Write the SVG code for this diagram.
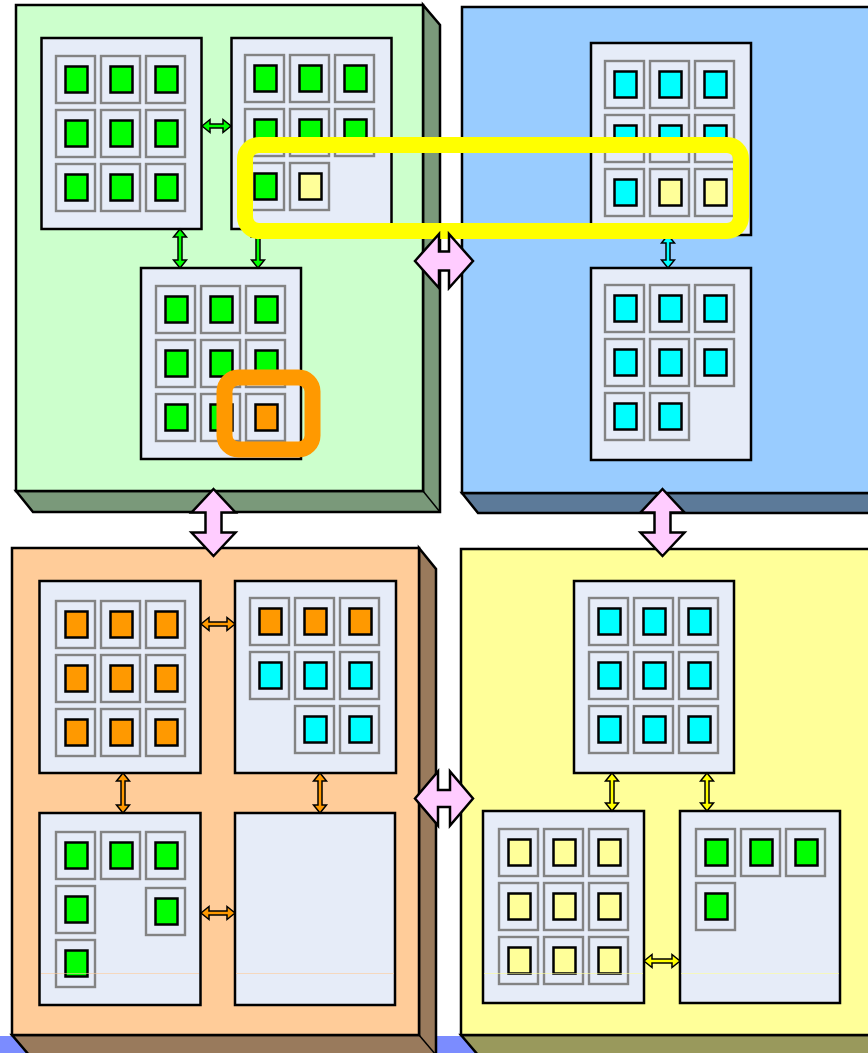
<svg xmlns="http://www.w3.org/2000/svg" xmlns:xlink="http://www.w3.org/1999/xlink" width="868" height="1053" viewBox="0 0 868 1053">
<style>
.front{stroke:#000;stroke-width:2.5}
.ext{stroke:#000;stroke-width:2.5;stroke-linejoin:miter}
.panel{fill:#e6ecf8;stroke:#000;stroke-width:2.5}
.fr{fill:#e6ecf8;stroke:#838383;stroke-width:2.4}
.sq{stroke:#000;stroke-width:2.5}
.arr{stroke:#000;stroke-width:1.5;stroke-linejoin:miter}
.big{fill:#ffccff;stroke:#000;stroke-width:2.5;stroke-linejoin:miter}
.hl{fill:none;stroke-width:16}
.faint{stroke-width:1;opacity:0.6}
</style>
<defs>
<g id="cG"><rect class="fr" x="1" y="1" width="39" height="47"/><rect class="sq" x="10.5" y="11.5" width="22" height="26" fill="#00ff00"/></g>
<g id="cC"><rect class="fr" x="1" y="1" width="39" height="47"/><rect class="sq" x="10.5" y="11.5" width="22" height="26" fill="#00ffff"/></g>
<g id="cO"><rect class="fr" x="1" y="1" width="39" height="47"/><rect class="sq" x="10.5" y="11.5" width="22" height="26" fill="#ff9900"/></g>
<g id="cY"><rect class="fr" x="1" y="1" width="39" height="47"/><rect class="sq" x="10.5" y="11.5" width="22" height="26" fill="#ffff99"/></g>
</defs>
<rect x="0" y="0" width="868" height="1053" fill="#fff"/>
<rect x="0" y="1036" width="868" height="17" fill="#7b8cff"/>

<g id="quad-tl">
<polygon class="ext" fill="#7a997a" points="16,491 423,491 423,5 440,25 440,512 33,512"/>
<line x1="423" y1="491" x2="440" y2="512" stroke="#000" stroke-width="1.5"/>
<rect class="front" fill="#ccffcc" x="16" y="5" width="407" height="486"/>
</g>
<g id="quad-tr">
<polygon class="ext" fill="#5c7a99" points="462,493 880,493 880,513 478,513"/>
<rect class="front" fill="#99ccff" x="462" y="7" width="420" height="486"/>
</g>
<g id="quad-bl">
<polygon class="ext" fill="#997a5c" points="12,1035 419,1035 419,548 436,569 436,1075 46,1075"/>
<line x1="419" y1="1035" x2="436" y2="1055" stroke="#000" stroke-width="1.5"/>
<rect class="front" fill="#ffcc99" x="12" y="548" width="407" height="487"/>
</g>
<g id="quad-br">
<polygon class="ext" fill="#99995c" points="461,1035 880,1035 880,1075 495,1075"/>
<rect class="front" fill="#ffff99" x="461" y="549" width="420" height="486"/>
</g>

<g id="panel-a">
<rect class="panel" x="41.5" y="38" width="160" height="191"/>
<use href="#cG" x="55" y="55"/><use href="#cG" x="100" y="55"/><use href="#cG" x="145" y="55"/>
<use href="#cG" x="55" y="109"/><use href="#cG" x="100" y="109"/><use href="#cG" x="145" y="109"/>
<use href="#cG" x="55" y="163"/><use href="#cG" x="100" y="163"/><use href="#cG" x="145" y="163"/>
</g>
<g id="panel-b">
<rect class="panel" x="231.5" y="38" width="160" height="191"/>
<use href="#cG" x="244" y="54"/><use href="#cG" x="289" y="54"/><use href="#cG" x="334" y="54"/>
<use href="#cG" x="244" y="108"/><use href="#cG" x="289" y="108"/><use href="#cG" x="334" y="108"/>
<use href="#cG" x="244" y="162"/><use href="#cY" x="289" y="162"/>
</g>
<g id="panel-c">
<rect class="panel" x="141" y="268" width="160" height="191"/>
<use href="#cG" x="155" y="285"/><use href="#cG" x="200" y="285"/><use href="#cG" x="245" y="285"/>
<use href="#cG" x="155" y="339"/><use href="#cG" x="200" y="339"/><use href="#cG" x="245" y="339"/>
<use href="#cG" x="155" y="393"/><use href="#cG" x="200" y="393"/><use href="#cO" x="245" y="393"/>
</g>
<g id="panel-d">
<rect class="panel" x="591" y="43" width="160" height="192"/>
<use href="#cC" x="604" y="60"/><use href="#cC" x="649" y="60"/><use href="#cC" x="694" y="60"/>
<use href="#cC" x="604" y="114"/><use href="#cC" x="649" y="114"/><use href="#cC" x="694" y="114"/>
<use href="#cC" x="604" y="168"/><use href="#cY" x="649" y="168"/><use href="#cY" x="694" y="168"/>
</g>
<g id="panel-e">
<rect class="panel" x="591" y="268" width="160" height="192"/>
<use href="#cC" x="604" y="284"/><use href="#cC" x="649" y="284"/><use href="#cC" x="694" y="284"/>
<use href="#cC" x="604" y="338"/><use href="#cC" x="649" y="338"/><use href="#cC" x="694" y="338"/>
<use href="#cC" x="604" y="392"/><use href="#cC" x="649" y="392"/>
</g>
<g id="panel-f">
<rect class="panel" x="39.5" y="581" width="161" height="192"/>
<use href="#cO" x="55" y="600"/><use href="#cO" x="100" y="600"/><use href="#cO" x="145" y="600"/>
<use href="#cO" x="55" y="654"/><use href="#cO" x="100" y="654"/><use href="#cO" x="145" y="654"/>
<use href="#cO" x="55" y="708"/><use href="#cO" x="100" y="708"/><use href="#cO" x="145" y="708"/>
</g>
<g id="panel-g">
<rect class="panel" x="235" y="581" width="161" height="192"/>
<use href="#cO" x="249" y="597"/><use href="#cO" x="294" y="597"/><use href="#cO" x="339" y="597"/>
<use href="#cC" x="249" y="651"/><use href="#cC" x="294" y="651"/><use href="#cC" x="339" y="651"/>
<use href="#cC" x="294" y="705"/><use href="#cC" x="339" y="705"/>
</g>
<g id="panel-h">
<rect class="panel" x="39.5" y="813" width="161" height="192"/>
<use href="#cG" x="55" y="831"/><use href="#cG" x="100" y="831"/><use href="#cG" x="145" y="831"/>
<use href="#cG" x="55" y="885"/><use href="#cG" x="145" y="887"/>
<use href="#cG" x="55" y="939"/>
</g>
<g id="panel-i">
<rect class="panel" x="235" y="813" width="160" height="192"/>
</g>
<g id="panel-j">
<rect class="panel" x="574" y="581" width="160" height="192"/>
<use href="#cC" x="588" y="597"/><use href="#cC" x="633" y="597"/><use href="#cC" x="678" y="597"/>
<use href="#cC" x="588" y="651"/><use href="#cC" x="633" y="651"/><use href="#cC" x="678" y="651"/>
<use href="#cC" x="588" y="705"/><use href="#cC" x="633" y="705"/><use href="#cC" x="678" y="705"/>
</g>
<g id="panel-k">
<rect class="panel" x="483" y="811" width="161" height="192"/>
<use href="#cY" x="498" y="828"/><use href="#cY" x="543" y="828"/><use href="#cY" x="588" y="828"/>
<use href="#cY" x="498" y="882"/><use href="#cY" x="543" y="882"/><use href="#cY" x="588" y="882"/>
<use href="#cY" x="498" y="936"/><use href="#cY" x="543" y="936"/><use href="#cY" x="588" y="936"/>
</g>
<g id="panel-l">
<rect class="panel" x="680" y="811" width="160" height="192"/>
<use href="#cG" x="695" y="828"/><use href="#cG" x="740" y="828"/><use href="#cG" x="785" y="828"/>
<use href="#cG" x="695" y="882"/>
</g>

<g id="faint-lines">
<line class="faint" x1="41" y1="973.5" x2="199" y2="973.5" stroke="#ffcc99"/>
<line class="faint" x1="236" y1="973.5" x2="394" y2="973.5" stroke="#ffcc99"/>
<line class="faint" x1="484" y1="973.5" x2="643" y2="973.5" stroke="#ffff99"/>
<line class="faint" x1="681" y1="973.5" x2="839" y2="973.5" stroke="#ffff99"/>
</g>

<g id="connectors">
<polygon class="arr" fill="#00ff00" points="202,126 210,119.5 210,124 223,124 223,119.5 231,126 223,132.5 223,128 210,128 210,132.5"/>
<polygon class="arr" fill="#00ff00" points="180,229 186.5,237 182,237 182,260 186.5,260 180,268 173.5,260 178,260 178,237 173.5,237"/>
<polygon class="arr" fill="#00ff00" points="258,229 264.5,237 260,237 260,260 264.5,260 258,268 251.5,260 256,260 256,237 251.5,237"/>
<polygon class="arr" fill="#00ffff" points="668,235 674.5,243 670,243 670,260 674.5,260 668,268 661.5,260 666,260 666,243 661.5,243"/>
<polygon class="arr" fill="#ff9900" points="201,624 209,617.5 209,622 227,622 227,617.5 235,624 227,630.5 227,626 209,626 209,630.5"/>
<polygon class="arr" fill="#ff9900" points="123,773 129.5,781 125,781 125,805 129.5,805 123,813 116.5,805 121,805 121,781 116.5,781"/>
<polygon class="arr" fill="#ff9900" points="320,773 326.5,781 322,781 322,805 326.5,805 320,813 313.5,805 318,805 318,781 313.5,781"/>
<polygon class="arr" fill="#ff9900" points="201,913 209,906.5 209,911 227,911 227,906.5 235,913 227,919.5 227,915 209,915 209,919.5"/>
<polygon class="arr" fill="#ffff00" points="612,773 618.5,781 614,781 614,803 618.5,803 612,811 605.5,803 610,803 610,781 605.5,781"/>
<polygon class="arr" fill="#ffff00" points="707,773 713.5,781 709,781 709,803 713.5,803 707,811 700.5,803 705,803 705,781 700.5,781"/>
<polygon class="arr" fill="#ffff00" points="644,961 652,954.5 652,959 672,959 672,954.5 680,961 672,967.5 672,963 652,963 652,967.5"/>
</g>

<g id="highlight-orange">
<rect class="hl" stroke="#ff9900" x="224.5" y="377.5" width="88" height="72" rx="14"/>
</g>
<g id="highlight-yellow">
<rect class="hl" stroke="#ffff00" x="245" y="145" width="496" height="86" rx="14"/>
</g>

<g id="connectors-inter">
<polygon class="big" points="415,261 439,234 439,251.5 449,251.5 449,234 473,261 449,288 449,270.5 439,270.5 439,288"/>
<polygon class="big" points="415,798.5 438,771.5 438,790 450,790 450,771.5 473,798.5 450,825.5 450,807 438,807 438,825.5"/>
<polygon class="big" points="213.5,489 235.5,512.5 221.5,512.5 221.5,532.5 235.5,532.5 213.5,556 191.5,532.5 205.5,532.5 205.5,512.5 191.5,512.5"/>
<polygon class="big" points="662.5,489 684.5,512.5 670.5,512.5 670.5,532.5 684.5,532.5 662.5,556 640.5,532.5 654.5,532.5 654.5,512.5 640.5,512.5"/>
</g>
</svg>
